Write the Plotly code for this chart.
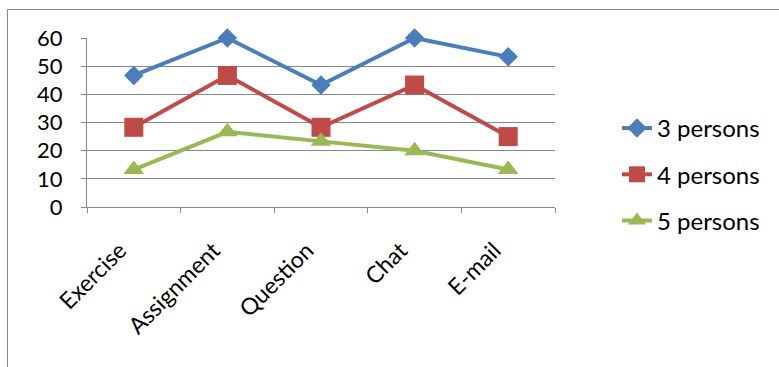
import plotly.graph_objects as go

categories = ["Exercise", "Assignment", "Question", "Chat", "E-mail"]
series_names = ["3 persons", "4 persons", "5 persons"]
persons3 = [46.7, 60, 43.3, 60, 53.3]
persons4 = [28.3, 46.7, 28.3, 43.3, 25]
persons5 = [13.3, 26.7, 23.3, 20, 13.3]
y_ticks = [0, 10, 20, 30, 40, 50, 60]

colors = ["#4A7EBB", "#BE4B48", "#98B954"]
symbols = ["diamond", "square", "triangle-up"]
sizes = [15, 19, 18]

W, H = 779, 367
L, R, T, B = 87, 224, 38, 160
pw, ph = W - L - R, H - T - B

fig = go.Figure()
for i, (name, vals) in enumerate(zip(series_names, [persons3, persons4, persons5])):
    fig.add_trace(go.Scatter(
        x=categories, y=vals, name=name, mode="lines+markers",
        line=dict(color=colors[i], width=4),
        marker=dict(symbol=symbols[i], size=sizes[i], color=colors[i]),
        legendgroup=name, cliponaxis=False,
    ))

font = "Lato, 'Open Sans', sans-serif"
fig.update_layout(
    width=W, height=H,
    margin=dict(l=L, r=R, t=T, b=B),
    paper_bgcolor="white", plot_bgcolor="white",
    font=dict(family=font, size=22, color="black"),
    showlegend=True,
    legend=dict(x=(617 - L) / pw, y=(207 - 128 + 22) / ph, xanchor="left", yanchor="top",
                tracegroupgap=12, font=dict(size=24), bgcolor="rgba(0,0,0,0)"),
    xaxis=dict(type="category", range=[-0.5, 4.5], tickangle=-45, tickson="boundaries",
               ticks="outside", ticklen=5, tickcolor="#868686", showline=True,
               linecolor="#868686", linewidth=1, showgrid=False, tickfont=dict(size=23),
               ticklabelstandoff=20, ticklabelshift=-14),
    yaxis=dict(range=[0, 60], tickvals=y_ticks, ticks="outside", ticklen=5,
               tickcolor="#868686", showline=True, linecolor="#868686", linewidth=1,
               showgrid=True, gridcolor="#868686", gridwidth=1, zeroline=False,
               tickfont=dict(size=22), ticklabelstandoff=14),
    shapes=[dict(type="rect", xref="paper", yref="paper",
                 x0=(7.5 - L) / pw, x1=(W + 20 - L) / pw,
                 y0=-(B + 20) / ph, y1=1 + (T - 9.5) / ph,
                 line=dict(color="#868686", width=1), fillcolor="rgba(0,0,0,0)", layer="below")],
)

fig.write_html("out.html")
